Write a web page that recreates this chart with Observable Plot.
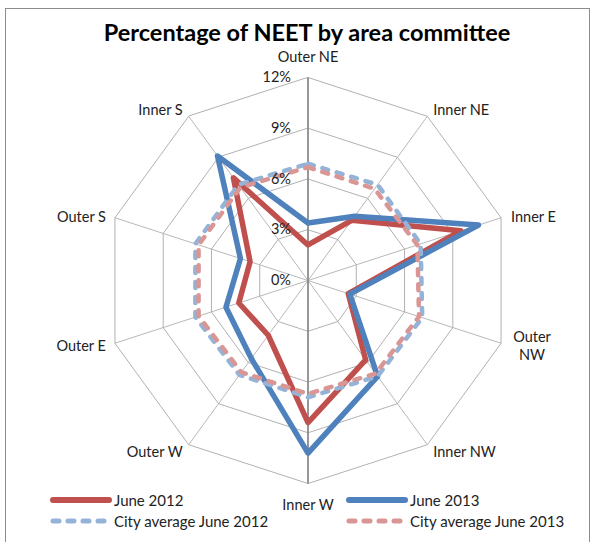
<!DOCTYPE html>
<html>
<head>
<meta charset="utf-8">
<script src="https://cdn.jsdelivr.net/npm/d3@7"></script>
<script src="https://cdn.jsdelivr.net/npm/@observablehq/plot@0.6"></script>
<style>
  html, body { margin: 0; padding: 0; background: #fff; overflow: hidden; }
  #wrap { position: relative; width: 596px; height: 542px; overflow: hidden; font-family: Lato, "Open Sans", sans-serif; }
  #frame { position: absolute; left: 5px; top: 8px; width: 585px; height: 600px; border: 1px solid #8c8c8c; box-sizing: border-box; }
  #title { position: absolute; left: 0; top: 18px; width: 614px; text-align: center; font-weight: bold; font-size: 23.5px; color: #000; }
  #chart { position: absolute; left: 0; top: 0; }
  .leg { position: absolute; font-size: 15px; color: #222; display: flex; align-items: center; white-space: nowrap; }
  .leg svg { margin-right: 2px; }
</style>
</head>
<body>
<div id="wrap">
  <div id="frame"></div>
  <div id="chart"></div>
  <div id="title">Percentage of NEET by area committee</div>
  <div id="legend"></div>
</div>
<script>
// ---- data ----
const areas = ["Outer NE", "Inner NE", "Inner E", "Outer NW", "Inner NW", "Inner W", "Outer W", "Outer E", "Outer S", "Inner S"];
const areaLabels = ["Outer NE", "Inner NE", "Inner E", "Outer\nNW", "Inner NW", "Inner W", "Outer W", "Outer E", "Outer S", "Inner S"];
const june2012 = [2.1, 4.4, 9.5, 2.5, 5.8, 8.4, 4.0, 4.3, 3.6, 7.5];
const june2013 = [3.4, 4.7, 10.6, 2.6, 7.0, 10.2, 5.7, 5.1, 4.2, 9.1];
const cityAvg2012 = [6.9, 7.0, 7.0, 7.1, 7.0, 6.9, 6.9, 7.0, 7.0, 7.0];
const cityAvg2013 = [6.7, 6.7, 6.8, 6.9, 6.8, 6.7, 6.7, 6.8, 6.8, 6.8];
const tickValues = [0, 3, 6, 9, 12];
const tickLabels = ["0%", "3%", "6%", "9%", "12%"];
const seriesNames = ["June 2012", "June 2013", "City average June 2012", "City average June 2013"];

// ---- layout / styles ----
const cx = 307.5, cy = 280, R = 203, vmax = 12;
const seriesStyle = [
  {stroke: "#C0504D", width: 5.5, dash: null},
  {stroke: "#4F81BD", width: 5.5, dash: null},
  {stroke: "#95B3D7", width: 4.5, dash: "6,9"},
  {stroke: "#D99694", width: 4.5, dash: "6,9"}
];
const labelLayout = [
  {anchor: "middle", dx: 0, dy: -21},
  {anchor: "start", dx: 6, dy: -7},
  {anchor: "start", dx: 10, dy: -2},
  {anchor: "middle", dx: 31, dy: 2},
  {anchor: "start", dx: 6, dy: 6},
  {anchor: "middle", dx: 0, dy: 21},
  {anchor: "end", dx: -6, dy: 6},
  {anchor: "end", dx: -9, dy: 2},
  {anchor: "end", dx: -9, dy: -2},
  {anchor: "end", dx: -6, dy: -7}
];

const n = areas.length;
const ang = i => i * 2 * Math.PI / n;
const px = (v, i) => v * Math.sin(ang(i));
const py = (v, i) => v * Math.cos(ang(i));

const rings = tickValues.filter(t => t > 0).flatMap(t => areas.map((a, i) => ({t, x: px(t, i), y: py(t, i)})));
const allSeries = [june2012, june2013, cityAvg2012, cityAvg2013];
const seriesMarks = allSeries.map((vals, k) => Plot.line(
  vals.map((v, i) => ({x: px(v, i), y: py(v, i)})),
  {x: "x", y: "y", curve: "linear-closed", stroke: seriesStyle[k].stroke, strokeWidth: seriesStyle[k].width,
   strokeDasharray: seriesStyle[k].dash, strokeLinecap: "round", strokeLinejoin: "round"}
));
const labelMarks = areas.map((a, i) => Plot.text([a], {
  x: () => px(vmax, i), y: () => py(vmax, i), text: () => areaLabels[i],
  textAnchor: labelLayout[i].anchor, dx: labelLayout[i].dx, dy: labelLayout[i].dy,
  fontSize: 14.5, fill: "#222", lineHeight: 1.25
}));

const chart = Plot.plot({
  width: 596, height: 542,
  x: {domain: [-vmax, vmax], range: [cx - R, cx + R], axis: null},
  y: {domain: [-vmax, vmax], range: [cy + R, cy - R], axis: null},
  style: {fontFamily: "Lato, 'Open Sans', sans-serif", background: "transparent", overflow: "visible"},
  marks: [
    Plot.line(rings, {x: "x", y: "y", z: "t", curve: "linear-closed", stroke: "#a8a8a8", strokeWidth: 0.9}),
    Plot.link(areas, {x1: 0, y1: 0, x2: (d, i) => px(vmax, i), y2: (d, i) => py(vmax, i), stroke: "#b0b0b0", strokeWidth: 0.9}),
    Plot.link([0], {x1: 0, y1: -vmax, x2: 0, y2: vmax, stroke: "#868686", strokeWidth: 1.6}),
    ...seriesMarks,
    Plot.text(tickValues, {x: 0, y: d => d, text: (d, i) => tickLabels[i], textAnchor: "end", dx: -17, fontSize: 14.5, fill: "#222"}),
    ...labelMarks
  ]
});
document.getElementById("chart").appendChild(chart);

// ---- legend ----
const legendPos = [
  {left: 50, top: 491},
  {left: 346, top: 491},
  {left: 50, top: 512},
  {left: 346, top: 512}
];
const legend = document.getElementById("legend");
seriesNames.forEach((name, k) => {
  const s = seriesStyle[k];
  const div = document.createElement("div");
  div.className = "leg";
  div.style.left = legendPos[k].left + "px";
  div.style.top = legendPos[k].top + "px";
  const dash = s.dash ? `stroke-dasharray="${s.dash}"` : "";
  div.innerHTML = `<svg width="62" height="14"><line x1="3" y1="7" x2="59" y2="7" stroke="${s.stroke}" stroke-width="${s.width + 0.5}" stroke-linecap="round" ${dash}/></svg><span>${name}</span>`;
  legend.appendChild(div);
});
</script>
</body>
</html>
